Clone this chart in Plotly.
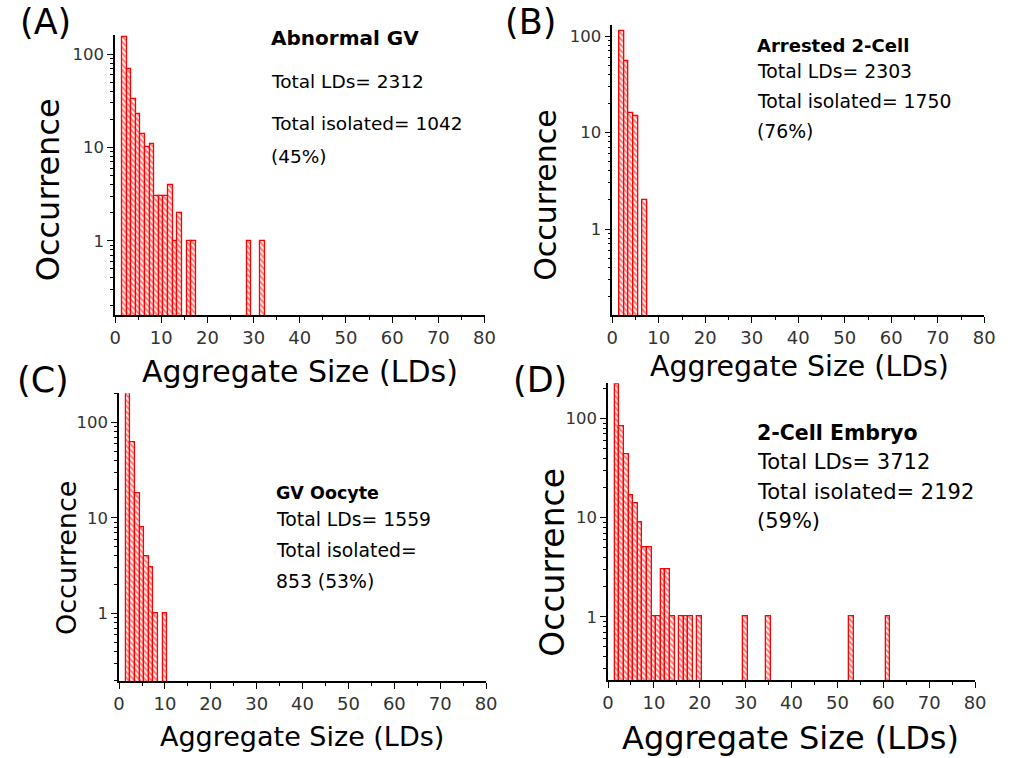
import plotly.graph_objects as go

# ---------------- data ----------------
A_sizes = [2, 3, 4, 5, 6, 7, 8, 9, 10, 11, 12, 13, 14, 16, 17, 29, 32]
A_counts = [152, 70, 33, 23, 14, 10, 11, 3, 3, 3, 4, 1, 2, 1, 1, 1, 1]

B_sizes = [2, 3, 4, 5, 7]
B_counts = [113, 55, 16, 15, 2]

C_sizes = [2, 3, 4, 5, 6, 7, 8, 10]
C_counts = [200, 62, 18, 8, 4, 3, 1, 1]

D_sizes = [2, 3, 4, 5, 6, 7, 8, 9, 10, 11, 12, 13, 14, 16, 17, 18, 20, 30, 35, 53, 61]
D_counts = [224, 84, 44, 17, 14, 9, 5, 5, 1, 1, 3, 3, 1, 1, 1, 1, 1, 1, 1, 1, 1]

panel_letters = ["(A)", "(B)", "(C)", "(D)"]
panel_titles = ["Abnormal GV", "Arrested 2-Cell", "GV Oocyte", "2-Cell Embryo"]
panel_lines = [
    ["Total LDs= 2312", "Total isolated= 1042", "(45%)"],
    ["Total LDs= 2303", "Total isolated= 1750", "(76%)"],
    ["Total LDs= 1559", "Total isolated=", "853 (53%)"],
    ["Total LDs= 3712", "Total isolated= 2192", "(59%)"],
]
x_title = "Aggregate Size (LDs)"
y_title = "Occurrence"
x_ticks = [0, 10, 20, 30, 40, 50, 60, 70, 80]
y_ticks = [1, 10, 100]

W, H = 1011, 758
FONT = "DejaVu Sans"


def px(x):
    return x / W


def py(y):
    return 1 - y / H


# layout geometry (pixels): x0, x1, ytop, ybottom, log range
panels = [
    dict(x0=111, x1=486.7, yt=35, yb=315, yr=[-0.796, 2.205]),
    dict(x0=616.7, x1=995, yt=25, yb=315, yr=[-0.891, 2.114]),
    dict(x0=115, x1=488.3, yt=393.3, yb=681, yr=[-0.709, 2.304]),
    dict(x0=612.3, x1=985.7, yt=383.3, yb=680, yr=[-0.639, 2.357]),
]
data = [(A_sizes, A_counts), (B_sizes, B_counts), (C_sizes, C_counts), (D_sizes, D_counts)]

fig = go.Figure()
minor_vals = [m * 10 ** e for e in (-1, 0, 1, 2) for m in range(2, 10)]

for i, ((sx, sc), p) in enumerate(zip(data, panels)):
    n = "" if i == 0 else str(i + 1)
    fig.add_trace(go.Bar(
        x=sx, y=sc, width=1,
        xaxis="x" + n, yaxis="y" + n,
        marker=dict(
            color="white",
            line=dict(color="#ff0000", width=1.3),
            pattern=dict(shape="\\", fgcolor="#ff0000", bgcolor="white",
                         size=4, solidity=0.55),
        ),
        showlegend=False,
    ))
    fig.layout["xaxis" + n] = dict(
        domain=[px(p["x0"]), px(p["x1"])], anchor="y" + n, range=[0, 80],
        tickvals=x_ticks, ticks="outside", ticklen=6, tickwidth=1.3,
        tickcolor="black", showline=True, linecolor="black", linewidth=1.5,
        showgrid=False, zeroline=False,
        tickfont=dict(family=FONT, size=18, color="#333333"),
        minor=dict(dtick=5, tick0=0, ticks="outside", ticklen=3,
                   tickcolor="black", showgrid=False),
    )
    fig.layout["yaxis" + n] = dict(
        domain=[py(p["yb"]), py(p["yt"])], anchor="x" + n, type="log",
        range=p["yr"], tickvals=y_ticks, ticktext=["1", "10", "100"],
        ticks="outside", ticklen=6, tickwidth=1.3, tickcolor="black",
        showline=True, linecolor="black", linewidth=1.5, showgrid=False,
        zeroline=False,
        tickfont=dict(family=FONT, size=16.5, color="#333333"),
        minor=dict(tickmode="array", tickvals=minor_vals, ticks="outside",
                   ticklen=3, tickcolor="black", showgrid=False),
    )

ann = []


def add(text, x, y, size, xanchor="left", bold=False, angle=0, color="black"):
    ann.append(dict(
        text=f"<b>{text}</b>" if bold else text,
        x=px(x), y=py(y), xref="paper", yref="paper",
        xanchor=xanchor, yanchor="middle", showarrow=False, textangle=angle,
        font=dict(family=FONT, size=size, color=color),
    ))


# panel letters
add(panel_letters[0], 40, 22, 35, xanchor="center")
add(panel_letters[1], 533, 22, 35, xanchor="center")
add(panel_letters[2], 38, 380, 35, xanchor="center")
add(panel_letters[3], 543, 380, 35, xanchor="center")

# x titles
add(x_title, 299, 371.7, 30, xanchor="center")
add(x_title, 806.7, 366.7, 28.4, xanchor="center")
add(x_title, 301.5, 736.7, 27, xanchor="center")
add(x_title, 798, 738.3, 32, xanchor="center")

# y titles
add(y_title, 43, 190, 32, xanchor="center", angle=-90)
add(y_title, 548, 195, 30, xanchor="center", angle=-90)
add(y_title, 61, 558, 27, xanchor="center", angle=-90)
add(y_title, 555, 562, 33, xanchor="center", angle=-90)

# panel text blocks
# A
add(panel_titles[0], 268, 38, 20, bold=True)
add(panel_lines[0][0], 268, 82, 18.5)
add(panel_lines[0][1], 268, 124, 18.5)
add(panel_lines[0][2], 268, 157, 18.5)
# B
add(panel_titles[1], 762, 45, 18, bold=True)
add(panel_lines[1][0], 762, 71, 18.8)
add(panel_lines[1][1], 762, 101, 18.8)
add(panel_lines[1][2], 762, 131, 18.8)
# C
add(panel_titles[2], 273, 493, 17.5, bold=True)
add(panel_lines[2][0], 273, 519, 18.8)
add(panel_lines[2][1], 273, 550, 18.8)
add(panel_lines[2][2], 273, 581, 18.8)
# D
add(panel_titles[3], 762, 433, 20.5, bold=True)
add(panel_lines[3][0], 762, 462, 21)
add(panel_lines[3][1], 762, 492, 21)
add(panel_lines[3][2], 762, 521, 21)

fig.update_layout(
    width=W, height=H, margin=dict(l=0, r=0, t=0, b=0),
    paper_bgcolor="white", plot_bgcolor="white",
    annotations=ann, bargap=0, showlegend=False,
)

fig.write_html(
    "out.html",
    config={"displayModeBar": False},
    post_script="document.body.style.margin='0px';document.body.style.overflow='hidden';",
)
